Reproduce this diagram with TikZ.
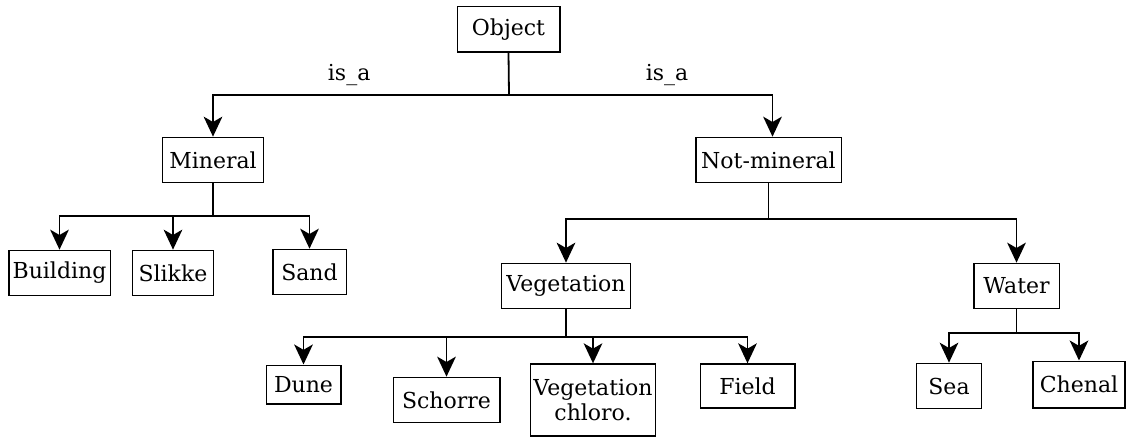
\documentclass[tikz,border=0pt]{standalone}
\usepackage{fontspec}
\setmainfont{DejaVu Serif}
\usetikzlibrary{arrows.meta}

\begin{document}
\begin{tikzpicture}[x=0.75pt,y=-0.75pt,
		font=\fontsize{16.5}{19}\selectfont,
		box/.style={draw,line width=1pt,inner sep=0pt,align=center},
		link/.style={line width=1.35pt},
		isa/.style={link,-{Stealth[length=15pt,width=14pt,inset=4pt]}}]
			\useasboundingbox (0,0) rectangle (1128,438);
			% classes
			\node[box,minimum width=77pt,minimum height=34pt] (obj) at (508.5,29.5) {Object};
			\node[box,minimum width=76pt,minimum height=34pt] (min) at (213,160) {Mineral};
			\node[box,minimum width=109pt,minimum height=34pt] (nmin) at (768.5,160) {Not-mineral};
			\node[box,minimum width=76pt,minimum height=34pt] (build) at (59.5,273) {Building};
			\node[box,minimum width=61pt,minimum height=34pt] (slik) at (173,273) {Slikke};
			\node[box,minimum width=55pt,minimum height=34pt] (sand) at (309.5,272) {Sand};
			\node[box,minimum width=97pt,minimum height=34pt] (veg) at (566,286) {Vegetation};
			\node[box,minimum width=64pt,minimum height=34pt] (wat) at (1016.5,286) {Water};
			\node[box,minimum width=56pt,minimum height=29pt] (dune) at (303.5,384.5) {Dune};
			\node[box,minimum width=80pt,minimum height=34pt] (scho) at (446.5,400) {Schorre};
			\node[box,minimum width=94pt,minimum height=54pt] (vegc) at (593,400) {Vegetation\\chloro.};
			\node[box,minimum width=71pt,minimum height=33pt] (field) at (747.5,386) {Field};
			\node[box,minimum width=49pt,minimum height=34pt] (sea) at (949,386) {Sea};
			\node[box,minimum width=69pt,minimum height=35pt] (chen) at (1079,384.5) {Chenal};
			% branch points
			\coordinate (jobj) at (509,95);
			\coordinate (jmin) at (213,216);
			\coordinate (jnmin) at (768.5,219);
			\coordinate (jveg) at (566,337);
			\coordinate (jwat) at (1016.5,333);
			% is_a links
			\draw[link] (obj.south) -- (jobj);
			\draw[isa] (jobj) -| (min.north) node[pos=0.27,above=3pt] {is\_a};
			\draw[isa] (jobj) -| ([xshift=3pt]nmin.north) node[pos=0.3,above=3pt] {is\_a};
			\draw[link] (min.south) -- (jmin);
			\draw[isa] (jmin) -| (build.north);
			\draw[isa] (jmin) -| (slik.north);
			\draw[isa] (jmin) -| (sand.north);
			\draw[link] (nmin.south) -- (jnmin);
			\draw[isa] (jnmin) -| (veg.north);
			\draw[isa] (jnmin) -| (wat.north);
			\draw[link] (veg.south) -- (jveg);
			\draw[isa] (jveg) -| (dune.north);
			\draw[isa] (jveg) -| (scho.north);
			\draw[isa] (jveg) -| (vegc.north);
			\draw[isa] (jveg) -| (field.north);
			\draw[link] (wat.south) -- (jwat);
			\draw[isa] (jwat) -| (sea.north);
			\draw[isa] (jwat) -| (chen.north);
		\end{tikzpicture}
\end{document}
